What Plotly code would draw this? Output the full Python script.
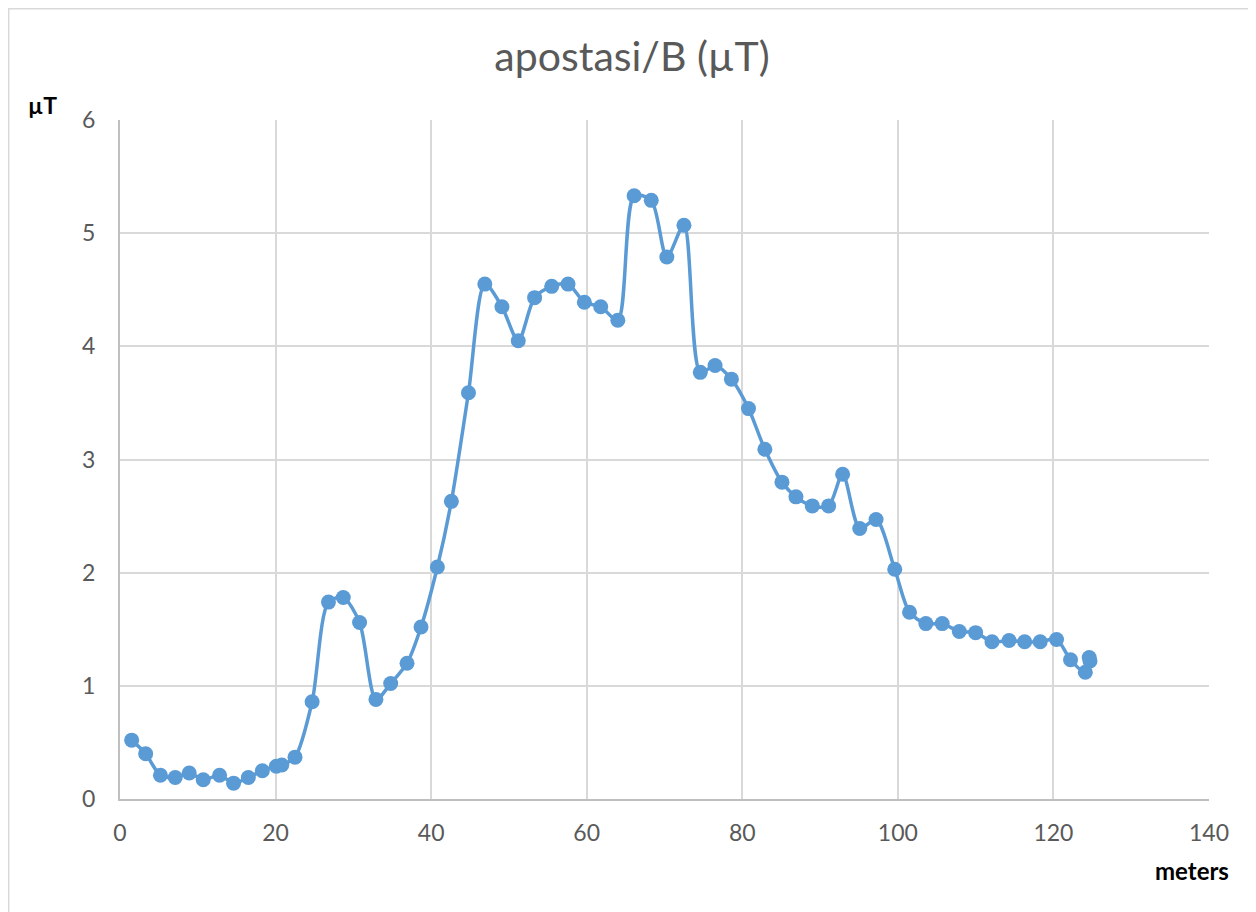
import plotly.graph_objects as go

# distance (meters)
meters = [1.5, 3.3, 5.2, 7.1, 8.9, 10.7, 12.8, 14.6, 16.5, 18.3, 20.1, 20.8, 22.5,
          24.7, 26.8, 28.7, 30.8, 32.9, 34.8, 36.9, 38.7, 40.8, 42.6, 44.8, 46.9,
          49.1, 51.2, 53.3, 55.5, 57.6, 59.7, 61.8, 64.0, 66.1, 68.3, 70.3, 72.5,
          74.6, 76.5, 78.6, 80.8, 82.9, 85.1, 86.9, 89.0, 91.1, 92.9, 95.1, 97.2,
          99.6, 101.5, 103.6, 105.7, 107.9, 110.0, 112.1, 114.3, 116.3, 118.3,
          120.4, 122.2, 124.1, 124.6, 124.7]
# magnetic field (µT)
field = [0.52, 0.40, 0.21, 0.19, 0.23, 0.17, 0.21, 0.14, 0.19, 0.25, 0.29, 0.30, 0.37,
         0.86, 1.74, 1.78, 1.56, 0.88, 1.02, 1.20, 1.52, 2.05, 2.63, 3.59, 4.55,
         4.35, 4.05, 4.43, 4.53, 4.55, 4.39, 4.35, 4.23, 5.33, 5.29, 4.79, 5.07,
         3.77, 3.83, 3.71, 3.45, 3.09, 2.80, 2.67, 2.59, 2.59, 2.87, 2.39, 2.47,
         2.03, 1.65, 1.55, 1.55, 1.48, 1.47, 1.39, 1.40, 1.39, 1.39,
         1.41, 1.23, 1.12, 1.25, 1.22]

title_text = "apostasi/B (µT)"
x_ticks = [0, 20, 40, 60, 80, 100, 120, 140]
y_ticks = [0, 1, 2, 3, 4, 5, 6]

blue = "#5B9BD5"
font_family = "Lato, 'Open Sans', sans-serif"

fig = go.Figure()
fig.add_trace(go.Scatter(
    x=meters, y=field, mode="lines+markers",
    line=dict(color=blue, width=3.5, shape="spline", smoothing=0.8),
    marker=dict(color=blue, size=15, symbol="circle"),
    showlegend=False,
))

fig.update_layout(
    width=1248, height=904,
    paper_bgcolor="white", plot_bgcolor="white",
    margin=dict(l=112, r=47, t=112, b=113),
    title=dict(text=title_text, x=0.5, xanchor="center", y=0.946, yanchor="middle",
               font=dict(family=font_family, size=41, color="#595959")),
    font=dict(family=font_family),
    xaxis=dict(range=[0, 140], tickvals=x_ticks, ticktext=[str(v) for v in x_ticks],
               showgrid=True, gridcolor="#d9d9d9", gridwidth=1.5,
               showline=True, linecolor="#bfbfbf", linewidth=2,
               zeroline=False, ticks="", ticklabelstandoff=12,
               tickfont=dict(size=23, color="#595959")),
    yaxis=dict(range=[0, 6], tickvals=y_ticks, ticktext=[str(v) for v in y_ticks],
               showgrid=True, gridcolor="#d9d9d9", gridwidth=1.5,
               showline=True, linecolor="#bfbfbf", linewidth=2,
               zeroline=False, ticks="", ticklabelstandoff=18,
               tickfont=dict(size=23, color="#595959")),
    annotations=[
        dict(text="<b>µT</b>", x=-0.0716, y=1.022, xref="paper", yref="paper",
             xanchor="center", yanchor="middle", showarrow=False,
             font=dict(family=font_family, size=23, color="black")),
        dict(text="<b>meters</b>", x=0.984, y=-0.1046, xref="paper", yref="paper",
             xanchor="center", yanchor="middle", showarrow=False,
             font=dict(family=font_family, size=24, color="black")),
    ],
    shapes=[
        dict(type="rect", xref="paper", yref="paper",
             x0=-0.1022, x1=1.0418, y0=-0.2, y1=1.1638,
             line=dict(color="#d9d9d9", width=1.5), fillcolor="rgba(0,0,0,0)",
             layer="below"),
    ],
)

fig.write_html("out.html")
